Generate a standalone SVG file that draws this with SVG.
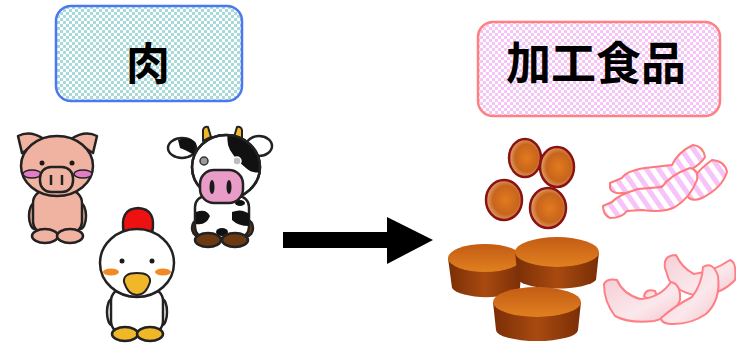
<svg xmlns="http://www.w3.org/2000/svg" width="736" height="343" viewBox="0 0 736 343">
  <defs>
    <pattern id="checkCyan" x="0" y="0" width="6" height="6" patternUnits="userSpaceOnUse">
      <rect width="6" height="6" fill="#ffffff"/>
      <rect width="3" height="3" fill="#a8dada"/>
      <rect x="3" y="3" width="3" height="3" fill="#a8dada"/>
    </pattern>
    <pattern id="checkPink" x="0" y="0" width="6" height="6" patternUnits="userSpaceOnUse">
      <rect width="6" height="6" fill="#ffffff"/>
      <rect width="3" height="3" fill="#f7c4f7"/>
      <rect x="3" y="3" width="3" height="3" fill="#f7c4f7"/>
    </pattern>
    <pattern id="stripes" width="10" height="10" patternUnits="userSpaceOnUse" patternTransform="rotate(-35)">
      <rect width="10" height="10" fill="#ffffff"/>
      <rect width="5" height="10" fill="#f6c4f8"/>
    </pattern>
    <radialGradient id="ballFill" cx="0.55" cy="0.5" r="0.6">
      <stop offset="0" stop-color="#e27a1e"/>
      <stop offset="0.6" stop-color="#c8651c"/>
      <stop offset="1" stop-color="#e8b890"/>
    </radialGradient>
    <linearGradient id="pattyTop" x1="0" y1="0" x2="0" y2="1">
      <stop offset="0" stop-color="#c45c14"/>
      <stop offset="1" stop-color="#e08020"/>
    </linearGradient>
    <linearGradient id="pattySide" x1="0" y1="0" x2="1" y2="0">
      <stop offset="0" stop-color="#7a2e06"/>
      <stop offset="0.5" stop-color="#a84a10"/>
      <stop offset="1" stop-color="#7a2e06"/>
    </linearGradient>
    <linearGradient id="hamFill" x1="0" y1="0" x2="1" y2="1">
      <stop offset="0" stop-color="#f5cfd6"/>
      <stop offset="0.6" stop-color="#fbe8ec"/>
      <stop offset="1" stop-color="#f3c6cc"/>
    </linearGradient>
    <clipPath id="cowHeadClip">
      <ellipse cx="226" cy="167" rx="34" ry="32"/>
    </clipPath>
    <clipPath id="cowBodyClip">
      <rect x="195" y="196" width="54" height="42" rx="11"/>
    </clipPath>
  </defs>
  <style>
    .label { font-family: "Noto Sans CJK JP", "Noto Sans CJK SC", "Noto Sans", sans-serif; font-weight: 700; fill: #000000; text-anchor: middle; }
    .ink { stroke: #222222; stroke-width: 2.5; stroke-linejoin: round; }
    .pig { fill: #f1b3a1; }
    .white { fill: #ffffff; }
    .eye { fill: #1a1a1a; }
    .ball { fill: url(#ballFill); stroke: #8a1212; stroke-width: 2.5; }
    .bacon { fill: url(#stripes); stroke: #ff7a7a; stroke-width: 2; stroke-linejoin: round; }
    .ham { fill: url(#hamFill); stroke: #ff7f86; stroke-width: 2; stroke-linejoin: round; }
  </style>

  <!-- category boxes -->
  <g id="meat-label">
    <rect x="56" y="6" width="186" height="95" rx="15" fill="url(#checkCyan)" stroke="#4a78f0" stroke-width="2.5"/>
    <text class="label" x="148" y="80" font-size="44">肉</text>
  </g>
  <g id="food-label">
    <rect x="478" y="22" width="242" height="94" rx="15" fill="url(#checkPink)" stroke="#ff8080" stroke-width="2.5"/>
    <text class="label" x="596" y="80" font-size="45">加工食品</text>
  </g>

  <!-- pig -->
  <g id="pig" class="ink">
    <path class="pig" d="M22,153 L18,136 Q30,130 44,139 Z"/>
    <path class="pig" d="M93,153 L97,136 Q85,130 71,139 Z"/>
    <ellipse class="pig" cx="35" cy="216" rx="6" ry="13"/>
    <ellipse class="pig" cx="80" cy="216" rx="6" ry="13"/>
    <rect class="pig" x="33" y="190" width="49" height="44" rx="13"/>
    <ellipse class="pig" cx="45" cy="236" rx="13" ry="7"/>
    <ellipse class="pig" cx="70" cy="236" rx="13" ry="7"/>
    <ellipse class="pig" cx="57" cy="166" rx="36" ry="30"/>
    <ellipse cx="32" cy="174" rx="9" ry="4" fill="#e27cc4" stroke-width="1.5"/>
    <ellipse cx="83" cy="174" rx="9" ry="4" fill="#e27cc4" stroke-width="1.5"/>
    <circle class="eye" cx="42" cy="163" r="2.5" stroke="none"/>
    <circle class="eye" cx="72" cy="163" r="2.5" stroke="none"/>
    <rect class="pig" x="40" y="167" width="33" height="25" rx="11"/>
    <line x1="51" y1="175" x2="51" y2="185" stroke-width="2.5"/>
    <line x1="62" y1="175" x2="62" y2="185" stroke-width="2.5"/>
  </g>

  <!-- cow -->
  <g id="cow" class="ink">
    <path d="M203,141 L203,130 Q204,126 208,127 L211,137 Z" fill="#f0b828" stroke-width="2"/>
    <path d="M242,141 L242,130 Q241,126 237,127 L234,137 Z" fill="#f0b828" stroke-width="2"/>
    <ellipse class="white" cx="182" cy="148" rx="14" ry="10"/>
    <path d="M178,140 Q190,136 196,143 L194,155 Q186,150 180,148 Z" fill="#111111" stroke="none"/>
    <ellipse class="white" cx="259" cy="146" rx="13" ry="10"/>
    <ellipse cx="198" cy="228" rx="6" ry="8" fill="#6b3a12"/>
    <ellipse cx="247" cy="228" rx="6" ry="8" fill="#6b3a12"/>
    <rect class="white" x="195" y="196" width="54" height="42" rx="11"/>
    <g clip-path="url(#cowBodyClip)" fill="#111111" stroke="none">
      <path d="M196,212 Q206,208 210,216 Q206,226 196,224 Z"/>
      <path d="M232,212 Q242,208 249,214 L249,226 Q238,226 232,220 Z"/>
      <ellipse cx="222" cy="232" rx="6" ry="4"/>
      <ellipse cx="240" cy="203" rx="5" ry="3"/>
    </g>
    <ellipse cx="208" cy="240" rx="13" ry="7" fill="#6b3a12"/>
    <ellipse cx="235" cy="240" rx="13" ry="7" fill="#6b3a12"/>
    <ellipse class="white" cx="226" cy="167" rx="34" ry="32"/>
    <path clip-path="url(#cowHeadClip)" d="M228,133 L262,133 L262,172 Q252,174 246,168 Q236,160 230,150 Q226,142 228,133 Z" fill="#111111" stroke="none"/>
    <ellipse cx="226" cy="167" rx="34" ry="32" fill="none"/>
    <circle cx="204" cy="161" r="4" fill="#9a9a9a" stroke="#333333" stroke-width="1.5"/>
    <circle cx="237" cy="161" r="4" fill="#bdbdbd" stroke="#ffffff" stroke-width="1.5"/>
    <rect x="200" y="170" width="43" height="33" rx="14" fill="#ea9cc9"/>
    <ellipse class="eye" cx="212" cy="187" rx="2.5" ry="7" stroke="none"/>
    <ellipse class="eye" cx="229" cy="187" rx="2.5" ry="7" stroke="none"/>
  </g>

  <!-- chicken -->
  <g id="chicken" class="ink">
    <path d="M124,233 Q119,209 138,208 Q157,209 152,233 Z" fill="#ee1111"/>
    <ellipse class="white" cx="112" cy="312" rx="5" ry="13"/>
    <ellipse class="white" cx="162" cy="312" rx="5" ry="13"/>
    <rect class="white" x="111" y="288" width="52" height="46" rx="13"/>
    <ellipse cx="125" cy="334" rx="13" ry="7" fill="#f0b828"/>
    <ellipse cx="150" cy="334" rx="13" ry="7" fill="#f0b828"/>
    <ellipse class="white" cx="137" cy="263" rx="37" ry="34"/>
    <ellipse cx="111" cy="272" rx="8" ry="3.5" fill="#f08a22" stroke="none"/>
    <ellipse cx="163" cy="272" rx="8" ry="3.5" fill="#f08a22" stroke="none"/>
    <circle class="eye" cx="122" cy="261" r="2.5" stroke="none"/>
    <circle class="eye" cx="152" cy="261" r="2.5" stroke="none"/>
    <path d="M124,282 Q123,273 137,273 Q151,273 150,282 Q146,295 137,295 Q128,295 124,282 Z" fill="#f0b828" stroke-width="2"/>
  </g>

  <!-- meatballs -->
  <g id="meatballs">
    <ellipse class="ball" cx="525" cy="158" rx="16" ry="19"/>
    <ellipse class="ball" cx="557" cy="167" rx="17" ry="20"/>
    <ellipse class="ball" cx="504" cy="200" rx="18" ry="20"/>
    <ellipse class="ball" cx="548" cy="208" rx="18" ry="20"/>
  </g>

  <!-- patties -->
  <g id="patties">
    <path d="M448,258 L452,288 A35,12 0 0 0 520,288 L522,258 Z" fill="url(#pattySide)"/>
    <ellipse cx="485" cy="258" rx="37" ry="14" fill="url(#pattyTop)"/>
    <path d="M515,252 L518,280 A40,11 0 0 0 596,280 L599,252 Z" fill="url(#pattySide)"/>
    <ellipse cx="557" cy="252" rx="42" ry="15" fill="url(#pattyTop)"/>
    <path d="M493,302 L496,330 A41,11 0 0 0 578,330 L581,302 Z" fill="url(#pattySide)"/>
    <ellipse cx="537" cy="302" rx="44" ry="15" fill="url(#pattyTop)"/>
  </g>

  <!-- bacon strips -->
  <g id="bacon">
    <path class="bacon" d="M610,183 L622,178 Q626,171 645,168 L672,165 Q678,152 693,145 Q703,146 705,157 Q700,166 678,177 Q670,186 642,192 L622,193 Q612,194 610,188 Z"/>
    <path class="bacon" d="M686,194 Q690,176 712,160 Q725,161 727,172 Q722,188 702,198 Q690,203 686,194 Z"/>
    <path class="bacon" d="M603,206 L612,202 Q618,195 638,189 L662,187 Q670,175 690,168 Q699,170 697,180 Q690,198 675,207 Q664,213 642,210 L627,211 Q622,218 610,218 Q603,215 603,206 Z"/>
  </g>

  <!-- ham slices -->
  <g id="ham">
    <path class="ham" d="M665,268 Q663,255 676,255 Q682,268 694,274 Q712,272 730,260 Q737,262 735,280 Q722,294 700,296 Q678,293 669,280 Z"/>
    <path class="ham" d="M644,296 Q646,288 655,291 Q659,299 650,301 Z"/>
    <path class="ham" d="M604,284 Q607,278 617,280 Q623,294 640,299 Q660,298 671,282 Q681,284 680,300 Q674,316 654,321 Q630,324 615,316 Q604,302 604,284 Z"/>
    <path class="ham" d="M661,318 Q676,305 692,297 Q702,284 703,267 Q713,261 718,276 Q721,300 706,314 Q690,325 670,324 Q661,323 661,318 Z"/>
  </g>

  <!-- connector -->
  <g id="connectors">
    <polygon points="283,232 387,232 387,217 433,240 387,264 387,248 283,248" fill="#000000"/>
  </g>
</svg>
